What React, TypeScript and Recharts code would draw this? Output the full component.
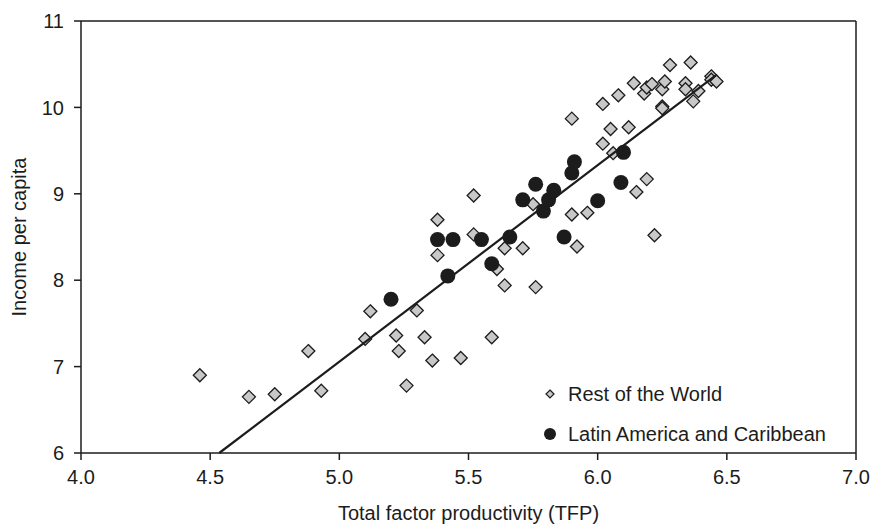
import { ScatterChart, Scatter, XAxis, YAxis, ReferenceLine } from 'recharts';

// Rest of the World (TFP, income per capita)
const restTfp = [
  4.46, 4.65, 4.75, 4.88, 4.93, 5.10, 5.12, 5.22, 5.23, 5.26,
  5.30, 5.33, 5.36, 5.38, 5.38, 5.47, 5.52, 5.52, 5.59, 5.61,
  5.64, 5.64, 5.71, 5.75, 5.76, 5.90, 5.90, 5.92, 5.96, 6.02,
  6.02, 6.05, 6.06, 6.08, 6.12, 6.14, 6.15, 6.18, 6.19, 6.19,
  6.21, 6.22, 6.25, 6.25, 6.26, 6.25, 6.28, 6.34, 6.34, 6.36,
  6.37, 6.39, 6.44, 6.44, 6.46,
];
const restIncome = [
  6.90, 6.65, 6.68, 7.18, 6.72, 7.32, 7.64, 7.36, 7.18, 6.78,
  7.65, 7.34, 7.07, 8.70, 8.29, 7.10, 8.98, 8.53, 7.34, 8.13,
  8.37, 7.94, 8.37, 8.88, 7.92, 9.87, 8.76, 8.39, 8.78, 10.04,
  9.58, 9.75, 9.47, 10.14, 9.77, 10.28, 9.02, 10.16, 9.17, 10.23,
  10.27, 8.52, 10.01, 10.21, 10.30, 9.99, 10.49, 10.28, 10.21, 10.52,
  10.07, 10.19, 10.36, 10.32, 10.30,
];

// Latin America and Caribbean
const lacTfp = [
  5.20, 5.38, 5.42, 5.44, 5.55, 5.59, 5.66, 5.71, 5.76, 5.79,
  5.81, 5.83, 5.87, 5.90, 5.91, 6.00, 6.09, 6.10,
];
const lacIncome = [
  7.78, 8.47, 8.05, 8.47, 8.47, 8.19, 8.50, 8.93, 9.11, 8.80,
  8.93, 9.04, 8.50, 9.24, 9.37, 8.92, 9.13, 9.48,
];

// fitted line end points
const fitTfp = [4.535, 6.457];
const fitIncome = [6.0, 10.37];

const xTicks = [4.0, 4.5, 5.0, 5.5, 6.0, 6.5, 7.0];
const yTicks = [6, 7, 8, 9, 10, 11];

const restData = restTfp.map((x, i) => ({ x, y: restIncome[i] }));
const lacData = lacTfp.map((x, i) => ({ x, y: lacIncome[i] }));
const fitData = fitTfp.map((x, i) => ({ x, y: fitIncome[i] }));

const INK = '#1c1c1c';
const FONT = '"Liberation Sans", Arial, sans-serif';

function Diamond(props: any) {
  const { cx, cy } = props;
  const r = 6.5;
  return (
    <path
      d={`M${cx},${cy - r}L${cx + r},${cy}L${cx},${cy + r}L${cx - r},${cy}Z`}
      fill="#c8c8c8"
      stroke={INK}
      strokeWidth={1.3}
    />
  );
}

function Dot(props: any) {
  const { cx, cy } = props;
  return <circle cx={cx} cy={cy} r={7.5} fill={INK} />;
}

const tickStyle = { fontSize: 20, fill: INK, fontFamily: FONT };

export default function App() {
  return (
    <div style={{ position: 'absolute', left: 0, top: 0, width: 872, height: 525, background: '#fff' }}>
      <ScatterChart width={872} height={525} margin={{ top: 21, right: 16, bottom: 0, left: 0 }}>
        <XAxis
          type="number"
          dataKey="x"
          domain={[4, 7]}
          ticks={xTicks}
          tickFormatter={(v: number) => v.toFixed(1)}
          height={72}
          stroke={INK}
          strokeWidth={1.5}
          tickSize={7}
          tickMargin={10}
          tick={tickStyle}
          label={{ value: 'Total factor productivity (TFP)', position: 'insideBottom', offset: 5, style: { fontSize: 20, fill: INK, fontFamily: FONT } }}
        />
        <YAxis
          type="number"
          dataKey="y"
          domain={[6, 11]}
          ticks={yTicks}
          width={81}
          stroke={INK}
          strokeWidth={1.5}
          tickSize={7}
          tickMargin={10}
          tick={tickStyle}
          label={{ value: 'Income per capita', angle: -90, position: 'insideLeft', offset: 19, style: { textAnchor: 'middle', fontSize: 20, fill: INK, fontFamily: FONT } }}
        />
        <ReferenceLine y={11} stroke={INK} strokeWidth={1.5} />
        <ReferenceLine x={7} stroke={INK} strokeWidth={1.5} />
        <Scatter data={restData} shape={Diamond} isAnimationActive={false} />
        <Scatter
          data={fitData}
          line={{ stroke: INK, strokeWidth: 2.2 }}
          shape={() => <g />}
          isAnimationActive={false}
        />
        <Scatter data={lacData} shape={Dot} isAnimationActive={false} />
      </ScatterChart>
      <div style={{ position: 'absolute', left: 540, top: 374, fontFamily: FONT, fontSize: 20, color: INK, lineHeight: '40px' }}>
        <div style={{ display: 'flex', alignItems: 'center' }}>
          <svg width={20} height={20} style={{ marginRight: 8 }}>
            <path d="M10,6L14,10L10,14L6,10Z" fill="#c8c8c8" stroke={INK} strokeWidth={1.2} />
          </svg>
          Rest of the World
        </div>
        <div style={{ display: 'flex', alignItems: 'center' }}>
          <svg width={20} height={20} style={{ marginRight: 8 }}>
            <circle cx={10} cy={10} r={6} fill={INK} />
          </svg>
          Latin America and Caribbean
        </div>
      </div>
    </div>
  );
}
